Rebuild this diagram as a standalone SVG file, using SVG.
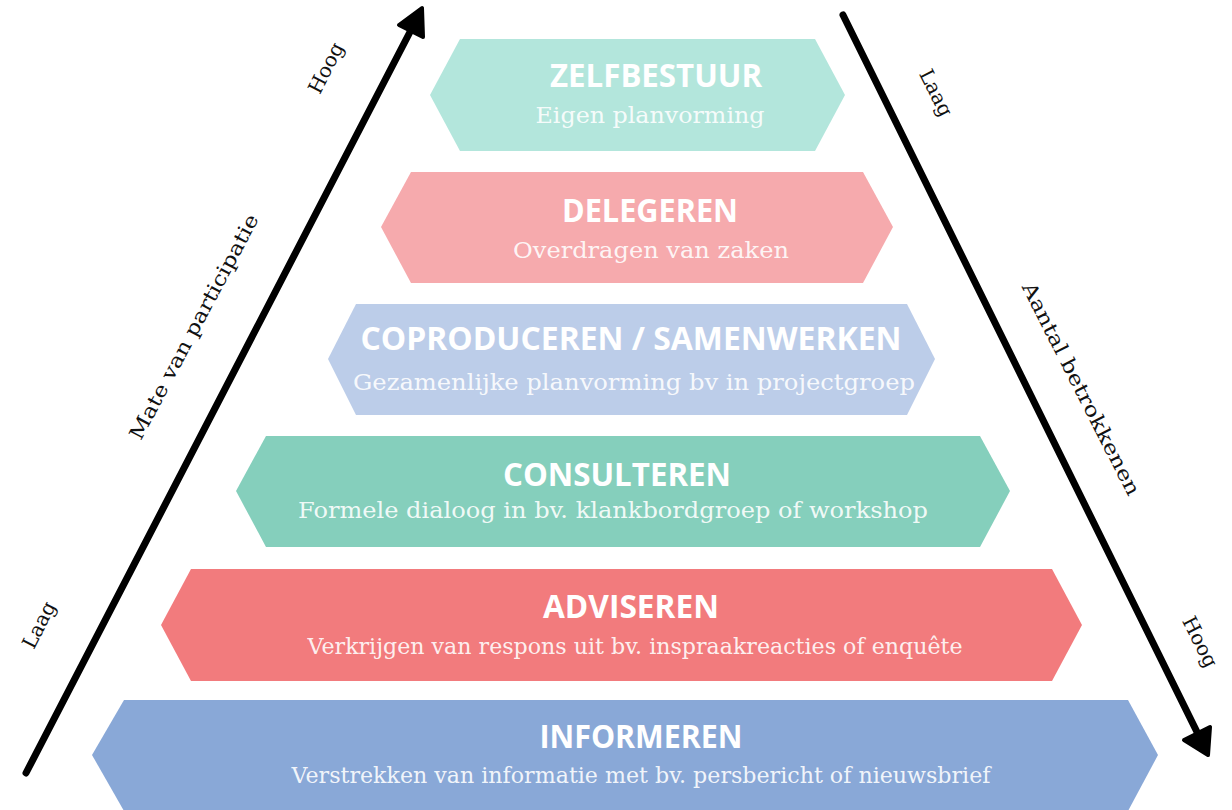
<svg xmlns="http://www.w3.org/2000/svg" width="1232" height="810" viewBox="0 0 1232 810">
<style>
.t{font-family:"Open Sans","Liberation Sans",sans-serif;font-weight:700;font-size:32px;fill:#fff;text-anchor:middle}
.s{font-family:"DejaVu Serif","Liberation Serif",serif;font-size:21.5px;fill:#fff;fill-opacity:0.9;text-anchor:middle}
.a{font-family:"DejaVu Serif","Liberation Serif",serif;font-size:20px;fill:#111;text-anchor:middle}
.ln{stroke:#000;stroke-width:7;stroke-linecap:round;fill:none}
.hd{fill:#000;stroke:#000;stroke-width:4;stroke-linejoin:round}
</style>
<rect width="1232" height="810" fill="#fff"/>
<g id="connectors">
<line class="ln" x1="26" y1="773" x2="411" y2="30"/>
<polygon class="hd" points="422,8 423,37 399,25"/>
<line class="ln" x1="843" y1="15" x2="1197" y2="732"/>
<polygon class="hd" points="1208,755 1184,740 1210,727"/>
</g>
<g id="zelfbestuur">
<polygon points="460,39 815,39 845,95 815,151 460,151 430,95" fill="#b3e6dc"/>
<text class="t" x="656" y="87" textLength="212" lengthAdjust="spacingAndGlyphs">ZELFBESTUUR</text>
<text class="s" x="650" y="123" textLength="229" lengthAdjust="spacingAndGlyphs">Eigen planvorming</text>
</g>
<g id="delegeren">
<polygon points="411,172 863,172 893,227 863,283 411,283 381,227" fill="#f6aaad"/>
<text class="t" x="650" y="222" textLength="176" lengthAdjust="spacingAndGlyphs">DELEGEREN</text>
<text class="s" x="651" y="258" textLength="276" lengthAdjust="spacingAndGlyphs">Overdragen van zaken</text>
</g>
<g id="coproduceren">
<polygon points="356,304 907,304 935,359 907,415 356,415 328,359" fill="#bccde9"/>
<text class="t" x="631" y="350" textLength="541" lengthAdjust="spacingAndGlyphs">COPRODUCEREN / SAMENWERKEN</text>
<text class="s" x="634" y="390" textLength="562" lengthAdjust="spacingAndGlyphs">Gezamenlijke planvorming bv in projectgroep</text>
</g>
<g id="consulteren">
<polygon points="266,436 980,436 1010,491 980,547 266,547 236,491" fill="#85cfbc"/>
<text class="t" x="617" y="486" textLength="228" lengthAdjust="spacingAndGlyphs">CONSULTEREN</text>
<text class="s" x="613" y="518" textLength="630" lengthAdjust="spacingAndGlyphs">Formele dialoog in bv. klankbordgroep of workshop</text>
</g>
<g id="adviseren">
<polygon points="191,569 1052,569 1082,625 1052,681 191,681 161,625" fill="#f27b7d"/>
<text class="t" x="631" y="618" textLength="176" lengthAdjust="spacingAndGlyphs">ADVISEREN</text>
<text class="s" x="635" y="654" textLength="655" lengthAdjust="spacingAndGlyphs">Verkrijgen van respons uit bv. inspraakreacties of enquête</text>
</g>
<g id="informeren">
<polygon points="124,700 1128,700 1158,755 1128,811 124,811 92,755" fill="#89a8d7"/>
<text class="t" x="641" y="748" textLength="203" lengthAdjust="spacingAndGlyphs">INFORMEREN</text>
<text class="s" x="641" y="783" textLength="699" lengthAdjust="spacingAndGlyphs">Verstrekken van informatie met bv. persbericht of nieuwsbrief</text>
</g>
<g id="labels">
<text class="a" transform="translate(332,71) rotate(-63)">Hoog</text>
<text class="a" transform="translate(200,330) rotate(-62)" textLength="252" lengthAdjust="spacingAndGlyphs">Mate van participatie</text>
<text class="a" transform="translate(45,628) rotate(-63)">Laag</text>
<text class="a" transform="translate(930,96) rotate(63)">Laag</text>
<text class="a" transform="translate(1075,392) rotate(63)" textLength="236" lengthAdjust="spacingAndGlyphs">Aantal betrokkenen</text>
<text class="a" transform="translate(1194,645) rotate(63)">Hoog</text>
</g>
</svg>
